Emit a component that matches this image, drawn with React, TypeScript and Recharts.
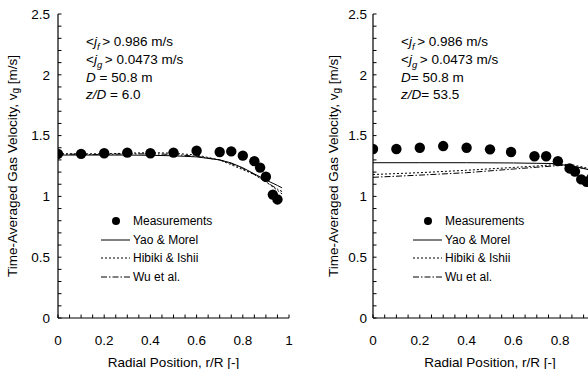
import React from "react";
import {
  ComposedChart,
  Scatter,
  Line,
  XAxis,
  YAxis,
  Legend,
} from "recharts";

const xTicks = [0, 0.05, 0.1, 0.15, 0.2, 0.25, 0.3, 0.35, 0.4, 0.45, 0.5, 0.55, 0.6, 0.65, 0.7, 0.75, 0.8, 0.85, 0.9, 0.95, 1];
const yTicks = [0, 0.1, 0.2, 0.3, 0.4, 0.5, 0.6, 0.7, 0.8, 0.9, 1, 1.1, 1.2, 1.3, 1.4, 1.5, 1.6, 1.7, 1.8, 1.9, 2, 2.1, 2.2, 2.3, 2.4, 2.5];
const xLabels = [0, 0.2, 0.4, 0.6, 0.8, 1];
const yLabels = [0, 0.5, 1, 1.5, 2, 2.5];

// z/D = 6.0
const leftMeasX = [0, 0.1, 0.2, 0.3, 0.4, 0.5, 0.6, 0.7, 0.75, 0.8, 0.85, 0.875, 0.9, 0.93, 0.95];
const leftMeasY = [1.35, 1.35, 1.355, 1.36, 1.355, 1.36, 1.375, 1.365, 1.37, 1.335, 1.29, 1.237, 1.162, 1.015, 0.975];
const leftModelX = [0, 0.1, 0.2, 0.3, 0.4, 0.5, 0.6, 0.7, 0.75, 0.8, 0.85, 0.9, 0.95, 0.97];
const leftYao = [1.34, 1.34, 1.34, 1.34, 1.338, 1.334, 1.325, 1.3, 1.275, 1.235, 1.185, 1.135, 1.09, 1.07];
const leftHibiki = [1.35, 1.35, 1.35, 1.355, 1.36, 1.355, 1.34, 1.3, 1.26, 1.22, 1.18, 1.12, 1.05, 1.02];
const leftWu = [1.35, 1.345, 1.345, 1.35, 1.35, 1.345, 1.33, 1.3, 1.27, 1.23, 1.18, 1.12, 1.06, 1.04];

// z/D = 53.5
const rightMeasX = [0, 0.1, 0.2, 0.3, 0.4, 0.5, 0.59, 0.69, 0.74, 0.79, 0.84, 0.863, 0.89, 0.913, 0.934];
const rightMeasY = [1.39, 1.39, 1.4, 1.414, 1.4, 1.387, 1.365, 1.33, 1.33, 1.29, 1.23, 1.205, 1.14, 1.12, 1.152];
const rightModelX = [0, 0.2, 0.4, 0.6, 0.7, 0.77, 0.8, 0.85, 0.9, 0.95, 0.97];
const rightYao = [1.277, 1.277, 1.277, 1.275, 1.272, 1.27, 1.262, 1.25, 1.23, 1.205, 1.19];
const rightHibiki = [1.18, 1.195, 1.215, 1.238, 1.25, 1.26, 1.265, 1.26, 1.24, 1.215, 1.2];
const rightWu = [1.157, 1.175, 1.195, 1.225, 1.24, 1.25, 1.255, 1.25, 1.23, 1.21, 1.2];

const seriesNames = ["Measurements", "Yao & Morel", "Hibiki & Ishii", "Wu et al."];
const dashes = ["", "", "2 2", "6 2 1.5 2"];

const FONT = '"Liberation Sans", Arial, sans-serif';
const TICK_FONT = 13.5;

const zip = (xs: number[], ys: number[]) => xs.map((x, i) => ({ x, y: ys[i] }));

const isIn = (list: number[], v: number) => list.some((m) => Math.abs(m - v) < 1e-9);

function Dot(props: any) {
  return <circle cx={props.cx} cy={props.cy} r={5.2} fill="#000" />;
}

// inward tick + label, placed from the axis' own tick coordinate
function renderXTick(p: any, gap: number) {
  const x = Number(p.x);
  const y = Number(p.y);
  const axisY = y - gap;
  const v = p.payload ? p.payload.value : 0;
  return (
    <g key={`xt-${p.index}`}>
      <path d={`M${x},${axisY}L${x},${axisY - 3.5}`} stroke="#000" strokeWidth={1} fill="none" />
      {isIn(xLabels, v) ? (
        <text x={x} y={y} dy="0.71em" textAnchor="middle" fontFamily={FONT} fontSize={TICK_FONT} fill="#000">
          {String(v)}
        </text>
      ) : null}
    </g>
  );
}

function renderYTick(p: any, gap: number) {
  const x = Number(p.x);
  const y = Number(p.y);
  const axisX = x + gap;
  const v = p.payload ? p.payload.value : 0;
  return (
    <g key={`yt-${p.index}`}>
      <path d={`M${axisX},${y}L${axisX + 3.5},${y}`} stroke="#000" strokeWidth={1} fill="none" />
      {isIn(yLabels, v) ? (
        <text x={x} y={y} dy="0.355em" textAnchor="end" fontFamily={FONT} fontSize={TICK_FONT} fill="#000">
          {String(v)}
        </text>
      ) : null}
    </g>
  );
}

function LegendBox() {
  return (
    <div style={{ fontFamily: FONT, fontSize: 12, color: "#000" }}>
      {seriesNames.map((name, i) => (
        <div key={name} style={{ display: "flex", alignItems: "center", height: 18.7 }}>
          <svg width={32} height={18} style={{ display: "block" }}>
            {i === 0 ? (
              <circle cx={16} cy={9} r={4} fill="#000" />
            ) : (
              <line x1={1} x2={30} y1={9} y2={9} stroke="#000" strokeWidth={1} strokeDasharray={dashes[i]} />
            )}
          </svg>
          <span style={{ marginLeft: 1 }}>{name}</span>
        </div>
      ))}
    </div>
  );
}

function YTitle(props: any) {
  const { viewBox, dx } = props;
  const cx = viewBox.x + dx;
  const cy = viewBox.y + viewBox.height / 2;
  return (
    <text
      x={cx}
      y={cy}
      transform={`rotate(-90 ${cx} ${cy})`}
      textAnchor="middle"
      dominantBaseline="central"
      fontFamily={FONT}
      fontSize={13.5}
      fill="#000"
    >
      <tspan>Time-Averaged Gas Velocity, v</tspan>
      <tspan dy={3} fontSize={10}>g</tspan>
      <tspan dy={-3}> [m/s]</tspan>
    </text>
  );
}

function XTitle(props: any) {
  const { viewBox } = props;
  return (
    <text
      x={viewBox.x + viewBox.width / 2}
      y={viewBox.y + 44}
      textAnchor="middle"
      dominantBaseline="central"
      fontFamily={FONT}
      fontSize={13.5}
      fill="#000"
    >
      Radial Position, r/R [-]
    </text>
  );
}

function Panel(props: {
  left: number;
  rightMargin: number;
  measX: number[];
  measY: number[];
  modelX: number[];
  yao: number[];
  hibiki: number[];
  wu: number[];
  titleDx: number;
  tickGap: number;
  legendLeft: number;
  note: React.ReactNode;
  noteLeft: number;
}) {
  const xGap = 17;
  const yGap = props.tickGap;
  const frame = { stroke: "#000", strokeWidth: 1.2 };
  return (
    <div style={{ position: "absolute", left: props.left, top: 0 }}>
      <ComposedChart
        width={300}
        height={369}
        margin={{ top: 14, right: props.rightMargin, bottom: 21, left: 0 }}
      >
        <XAxis
          type="number"
          dataKey="x"
          domain={[0, 1]}
          ticks={xTicks}
          interval={0}
          allowDataOverflow
          height={30}
          tickSize={0}
          tickMargin={xGap}
          tick={(p: any) => renderXTick(p, xGap)}
          axisLine={frame}
          tickLine={false}
          label={<XTitle />}
        />
        <XAxis xAxisId="top" orientation="top" type="number" domain={[0, 1]} height={0} tick={false} tickLine={false} axisLine={frame} />
        <YAxis
          type="number"
          dataKey="y"
          domain={[0, 2.5]}
          ticks={yTicks}
          interval={0}
          allowDataOverflow
          width={58}
          tickSize={0}
          tickMargin={yGap}
          tick={(p: any) => renderYTick(p, yGap)}
          axisLine={frame}
          tickLine={false}
          label={<YTitle dx={props.titleDx} />}
        />
        <YAxis yAxisId="right" orientation="right" type="number" domain={[0, 2.5]} width={0} tick={false} tickLine={false} axisLine={frame} />
        <Line data={zip(props.modelX, props.yao)} dataKey="y" stroke="#000" strokeWidth={1} dot={false} type="linear" isAnimationActive={false} />
        <Line data={zip(props.modelX, props.hibiki)} dataKey="y" stroke="#000" strokeWidth={1} strokeDasharray={dashes[2]} dot={false} type="linear" isAnimationActive={false} />
        <Line data={zip(props.modelX, props.wu)} dataKey="y" stroke="#000" strokeWidth={1} strokeDasharray={dashes[3]} dot={false} type="linear" isAnimationActive={false} />
        <Scatter data={zip(props.measX, props.measY)} dataKey="y" shape={<Dot />} isAnimationActive={false} />
        <Legend
          layout="horizontal"
          verticalAlign="middle"
          align="center"
          wrapperStyle={{ left: props.legendLeft, top: 211.5, width: "auto", height: "auto" }}
          content={() => <LegendBox />}
        />
      </ComposedChart>
      <div
        style={{
          position: "absolute",
          left: props.noteLeft,
          top: 33,
          fontFamily: FONT,
          fontSize: 13.5,
          lineHeight: "17.8px",
          color: "#000",
          whiteSpace: "nowrap",
        }}
      >
        {props.note}
      </div>
    </div>
  );
}

function Note(props: { eq: string; zd: string }) {
  const sub = { fontSize: 9.5, fontStyle: "italic", lineHeight: 0 } as const;
  return (
    <>
      <div>
        &lt;<i>j</i>
        <sub style={sub}>f </sub>&gt; 0.986 m/s
      </div>
      <div>
        &lt;<i>j</i>
        <sub style={sub}>g </sub>&gt; 0.0473 m/s
      </div>
      <div>
        <i>D</i>
        {props.eq}50.8 m
      </div>
      <div>
        <i>z/D</i>
        {props.eq}
        {props.zd}
      </div>
    </>
  );
}

export default function App() {
  return (
    <div
      style={{
        position: "absolute",
        left: 0,
        top: 0,
        width: 588,
        height: 369,
        overflow: "hidden",
        background: "#fff",
      }}
    >
      <Panel
        left={0}
        rightMargin={11}
        measX={leftMeasX}
        measY={leftMeasY}
        modelX={leftModelX}
        yao={leftYao}
        hibiki={leftHibiki}
        wu={leftWu}
        titleDx={12}
        tickGap={8}
        legendLeft={100}
        noteLeft={86}
        note={<Note eq=" = " zd="6.0" />}
      />
      <Panel
        left={315}
        rightMargin={8}
        measX={rightMeasX}
        measY={rightMeasY}
        modelX={rightModelX}
        yao={rightYao}
        hibiki={rightHibiki}
        wu={rightWu}
        titleDx={18}
        tickGap={6}
        legendLeft={97}
        noteLeft={86}
        note={<Note eq="= " zd="53.5" />}
      />
    </div>
  );
}
